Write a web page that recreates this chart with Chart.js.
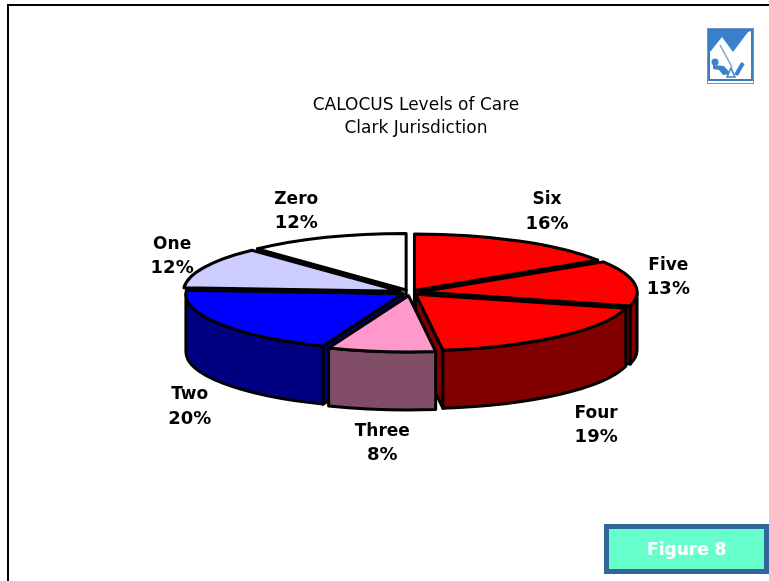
<!DOCTYPE html>
<html>
<head>
<meta charset="utf-8">
<title>CALOCUS Levels of Care</title>
<script src="https://cdn.jsdelivr.net/npm/chart.js@4"></script>
<style>
  html, body { margin: 0; padding: 0; background: #fff; overflow: hidden; }
  #page { position: relative; width: 769px; height: 581px; }
  #myChart { position: absolute; left: 0; top: 0; }
  #lineTop { position: absolute; left: 7px; top: 4px; width: 762px; height: 2px; background: #000; }
  #lineLeft { position: absolute; left: 7px; top: 4px; width: 2px; height: 577px; background: #000; }
  #logo { position: absolute; left: 707px; top: 28px; }
  #figure {
    position: absolute; left: 604px; top: 524px; width: 155px; height: 40px;
    border: 5px solid #336699; background: #66ffcc; color: #fff;
    font: bold 17px "DejaVu Sans", sans-serif; text-align: center; line-height: 40px;
  }
</style>
</head>
<body>
<div id="page">
  <canvas id="myChart" width="769" height="581"></canvas>
  <div id="lineTop"></div>
  <div id="lineLeft"></div>
  <svg id="logo" width="47" height="56" viewBox="0 0 47 56">
    <rect x="0.5" y="0.5" width="46" height="55" fill="#fff" stroke="#6d96c8"/>
    <rect x="2" y="2" width="43" height="50" fill="#fff" stroke="#3a7cc4" stroke-width="2"/>
    <path d="M3 3H44L41 4L26 24L15 9L3 24Z" fill="#3a80cc"/>
    <path d="M13 17L25 39" stroke="#7f9fc8" stroke-width="1.5"/>
    <circle cx="8" cy="34" r="3.5" fill="#3a80cc"/>
    <path d="M6 37L17 38L24 46L16 47L12 42L6 41Z" fill="#3a80cc"/>
    <path d="M29 47L36 35" stroke="#3a80cc" stroke-width="4"/>
    <path d="M24 40L28 49H20Z" fill="#fff" stroke="#3a80cc" stroke-width="1.5"/>
  </svg>
  <div id="figure">Figure 8</div>
</div>
<script>
const categorias = ['Six', 'Five', 'Four', 'Three', 'Two', 'One', 'Zero'];
const valori = [16, 13, 19, 8, 20, 12, 12];
const colori = ['#ff0000', '#ff0000', '#ff0000', '#ff99cc', '#0000ff', '#ccccff', '#ffffff'];
const coloriLato = ['#800000', '#800000', '#800000', '#804c66', '#000080', '#666680', '#808080'];
const titolo = ['CALOCUS Levels of Care', 'Clark Jurisdiction'];

const schiaccia = 0.26;   // how flat the pie is
const spessore = 58;      // height of the side wall
const esplosione = 32;
const linea = 3;

// where each label sits, relative to the outer edge of its slice
const spostaLabel = [[28, -41], [34, -18], [37, 77], [1, 80], [-30, 71], [-32, -23], [-30, -38]];

// same shift that ArcElement.draw applies for options.offset
function shift(arc) {
  const mid = (arc.startAngle + arc.endAngle) / 2;
  const o = esplosione / 4;
  const fix = 1 - Math.sin(Math.min(Math.PI, arc.circumference));
  const d = o + o * fix;
  return { x: arc.x + Math.cos(mid) * d, y: arc.y + Math.sin(mid) * d * schiaccia };
}

function punto(arc, a, dy) {
  const c = shift(arc);
  return {
    x: c.x + Math.cos(a) * arc.outerRadius,
    y: c.y + Math.sin(a) * arc.outerRadius * schiaccia + (dy || 0)
  };
}

function ovale(ctx, arc, from, to, dy, back) {
  const c = shift(arc);
  ctx.ellipse(c.x, c.y + dy, arc.outerRadius, arc.outerRadius * schiaccia, 0, from, to, back);
}

function fillStroke(ctx, color) {
  ctx.fillStyle = color;
  ctx.fill();
  ctx.stroke();
}

function disegnaLati(ctx, arc, color) {
  const c = shift(arc);
  const s = arc.startAngle, e = arc.endAngle;
  ctx.lineWidth = linea;
  ctx.lineJoin = 'round';
  ctx.strokeStyle = '#000';

  // radial cut faces, only the ones turned to the viewer (edge-on ones skipped)
  [[s, Math.cos(s) < 0], [e, Math.cos(e) > 0]].forEach(([a, visibile]) => {
    if (!visibile || Math.abs(Math.cos(a)) > 0.99) return;
    const p = punto(arc, a);
    ctx.beginPath();
    ctx.moveTo(c.x, c.y);
    ctx.lineTo(p.x, p.y);
    ctx.lineTo(p.x, p.y + spessore);
    ctx.lineTo(c.x, c.y + spessore);
    ctx.closePath();
    fillStroke(ctx, color);
  });

  // outer wall, front half of the ellipse only
  const from = Math.max(s, 0), to = Math.min(e, Math.PI);
  if (to > from) {
    ctx.beginPath();
    ovale(ctx, arc, from, to, 0, false);
    ovale(ctx, arc, to, from, spessore, true);
    ctx.closePath();
    fillStroke(ctx, color);
  }
}

const pie3d = {
  id: 'pie3d',
  beforeDatasetsDraw(chart) {
    const ctx = chart.ctx;
    const arcs = chart.getDatasetMeta(0).data;
    // back slices first
    arcs.map((arc, i) => ({ arc, i }))
      .sort((a, b) => Math.sin((a.arc.startAngle + a.arc.endAngle) / 2) - Math.sin((b.arc.startAngle + b.arc.endAngle) / 2))
      .forEach(o => disegnaLati(ctx, o.arc, coloriLato[o.i]));
    // flatten what the library draws for the top faces
    const a0 = arcs[0];
    ctx.save();
    ctx.translate(a0.x, a0.y);
    ctx.scale(1, schiaccia);
    ctx.translate(-a0.x, -a0.y);
  },
  afterDatasetsDraw(chart) {
    const ctx = chart.ctx;
    ctx.restore();
    const arcs = chart.getDatasetMeta(0).data;

    ctx.lineWidth = linea;
    ctx.lineJoin = 'round';
    ctx.strokeStyle = '#000';
    arcs.forEach(arc => {
      const c = shift(arc);
      ctx.beginPath();
      ctx.moveTo(c.x, c.y);
      ovale(ctx, arc, arc.startAngle, arc.endAngle, 0, false);
      ctx.closePath();
      ctx.stroke();
    });

    ctx.fillStyle = '#000';
    ctx.textAlign = 'center';
    ctx.textBaseline = 'middle';
    arcs.forEach((arc, i) => {
      const p = punto(arc, (arc.startAngle + arc.endAngle) / 2);
      const x = p.x + spostaLabel[i][0];
      const y = p.y + spostaLabel[i][1];
      ctx.font = 'bold 17px "DejaVu Sans", sans-serif';
      ctx.fillText(categorias[i], x, y);
      ctx.font = 'bold 18px "DejaVu Sans", sans-serif';
      ctx.fillText(valori[i] + '%', x, y + 24);
    });

    ctx.font = '17px "DejaVu Sans", sans-serif';
    titolo.forEach((riga, i) => ctx.fillText(riga, 416, 106 + i * 23));
  }
};

new Chart('myChart', {
  type: 'pie',
  data: {
    labels: categorias,
    datasets: [{
      data: valori,
      backgroundColor: colori,
      borderWidth: 0,
      offset: esplosione,
      clip: false
    }]
  },
  options: {
    responsive: false,
    animation: false,
    radius: 217,
    layout: { padding: { left: 51, top: 4 } },
    plugins: { legend: { display: false }, tooltip: { enabled: false } }
  },
  plugins: [pie3d]
});
</script>
</body>
</html>
